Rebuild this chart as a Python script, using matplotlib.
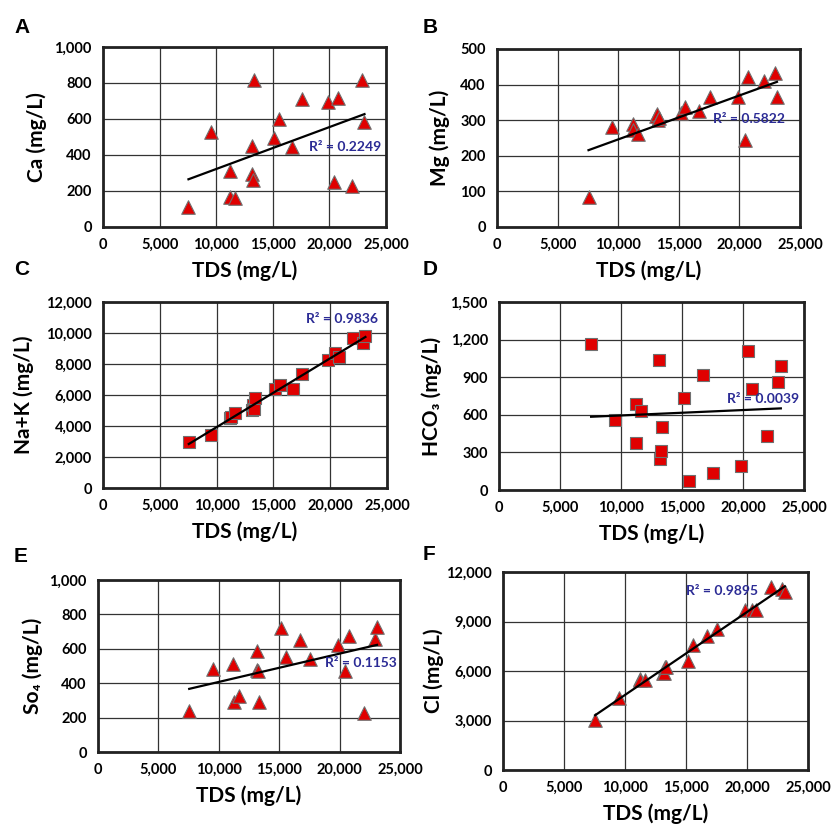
import numpy as np
import matplotlib
matplotlib.use('Agg')
import matplotlib.pyplot as plt

plt.rcParams['font.family'] = ['Lato', 'DejaVu Sans']

# TDS of the samples (mg/L), shared by every panel
tds = [7550, 9500, 11200, 11250, 11650, 13150, 13200, 13250, 13350, 15150,
       15550, 16700, 17550, 19850, 20450, 20750, 22000, 22900, 23100]

ca = [111, 528, 311, 167, 161, 450, 293, 263, 819, 494,
      602, 443, 713, 693, 250, 717, 226, 815, 583]
mg = [85, 282, 289, 273, 261, 312, 318, 301, 305, 321,
      336, 327, 364, 365, 244, 421, 409, 432, 364]
nak = [2950, 3430, 4500, 4550, 4860, 5040, 5360, 5100, 5790, 6360,
       6620, 6360, 7350, 8290, 8720, 8460, 9690, 9360, 9810]
hco3 = [1167, 560, 685, 373, 631, 1039, 248, 314, 501, 738,
        75, 917, 133, 192, 1111, 805, 432, 861, 986]
so4 = [240, 481, 510, 293, 326, 587, 477, 470, 293, 723,
       554, 651, 539, 622, 473, 674, 225, 655, 725]
cl = [3030, 4340, 5510, 5450, 5450, 5850, 5900, 6250, 6250, 6620,
      7560, 8110, 8530, 9680, 9720, 9680, 11090, 10950, 10790]

r2_text = ['0.2249', '0.5822', '0.9836', '0.0039', '0.1153', '0.9895']
letters = ['A', 'B', 'C', 'D', 'E', 'F']
ylabels = ['Ca (mg/L)', 'Mg (mg/L)', 'Na+K (mg/L)', 'HCO\u2083 (mg/L)',
           'So\u2084 (mg/L)', 'Cl (mg/L)']
ydata = [ca, mg, nak, hco3, so4, cl]
ymax = [1000, 500, 12000, 1500, 1000, 12000]
ystep = [200, 100, 2000, 300, 200, 3000]
markers = ['^', '^', 's', 's', '^', '^']

W, H = 832, 830
# axes boxes in pixels: left, right, top, bottom
boxes = [(103, 386, 47, 227), (497, 800, 49, 227),
         (103, 387, 302, 488), (499, 804, 302, 490),
         (98, 400, 580, 752), (503, 808, 572, 770)]
# R^2 label position (data coords)
r2_pos = [(18200, 444), (17850, 303), (17900, 10930),
          (18650, 725), (18780, 515), (15030, 10830)]
# y label centre x (pixels)
ylab_x = [37, 440, 24, 432, 33, 434]
letter_pos = [(14, 33), (423, 33), (14, 275), (423, 275), (14, 562), (423, 560)]

fig = plt.figure(figsize=(W / 100, H / 100), dpi=100)

x = np.array(tds, dtype=float)
for i in range(6):
    l, r, t, b = boxes[i]
    ax = fig.add_axes([l / W, 1 - b / H, (r - l) / W, (b - t) / H])
    y = np.array(ydata[i], dtype=float)
    ax.scatter(x, y, marker=markers[i], s=95 if markers[i] == '^' else 80,
               c='#E00000', edgecolors='#707070', linewidths=0.8, zorder=3)
    k, c0 = np.polyfit(x, y, 1)
    xs = np.array([x.min(), x.max()])
    ax.plot(xs, k * xs + c0, color='black', lw=1.6, zorder=4)
    ax.text(r2_pos[i][0], r2_pos[i][1], 'R\u00b2 = ' + r2_text[i],
            color='#2B2B95', fontsize=10, fontweight='bold',
            ha='left', va='center', zorder=5)

    ax.set_xlim(0, 25000)
    ax.set_ylim(0, ymax[i])
    ax.set_xticks(np.arange(0, 25001, 5000))
    ax.set_yticks(np.arange(0, ymax[i] + 1, ystep[i]))
    ax.set_xticklabels([f'{v:,}' for v in range(0, 25001, 5000)])
    ax.set_yticklabels([f'{v:,}' for v in range(0, ymax[i] + 1, ystep[i])])
    ax.tick_params(length=0, labelsize=10.5, pad=8)
    for lab in ax.get_xticklabels() + ax.get_yticklabels():
        lab.set_fontweight('bold')
    ax.grid(True, color='#333333', lw=0.9)
    ax.set_axisbelow(True)
    for s in ax.spines.values():
        s.set_linewidth(2)
        s.set_color('#222222')

    ax.set_xlabel('TDS (mg/L)', fontsize=15, fontweight='bold', labelpad=6)
    ax.set_ylabel(ylabels[i], fontsize=15, fontweight='bold', va='center')
    ax.yaxis.set_label_coords(ylab_x[i] / W, 1 - (t + b) / 2 / H,
                              transform=fig.transFigure)

    fig.text(letter_pos[i][0] / W, 1 - letter_pos[i][1] / H, letters[i],
             fontsize=15, fontweight='bold', family='Liberation Sans',
             ha='left', va='baseline')

fig.savefig('out.png', dpi=100)
